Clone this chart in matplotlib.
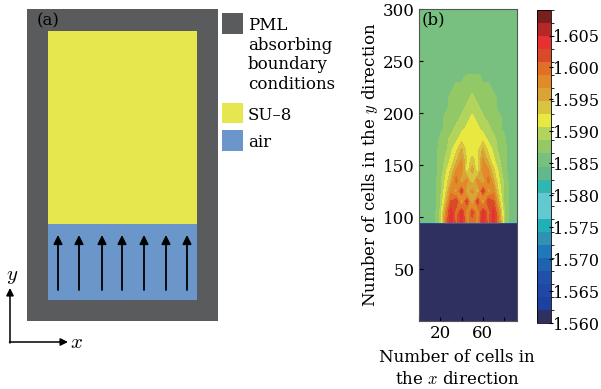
import numpy as np
import matplotlib
matplotlib.use("Agg")
import matplotlib.pyplot as plt
from matplotlib.colors import ListedColormap, BoundaryNorm
from matplotlib.patches import Rectangle

plt.rcParams['font.family'] = ['DejaVu Serif']
plt.rcParams['mathtext.fontset'] = 'cm'
plt.rcParams['font.size'] = 12

# ---- panel (b) data: refractive index map ----
# columns: x cells, rows: y cells; values are (n - 1.5) * 1000
x_cells = [0, 5, 10, 15, 20, 25, 30, 35, 40, 45, 50, 55, 60, 65, 70, 75, 80, 85, 90, 95]
y_cells = [0, 94, 95, 105, 115, 125, 135, 145, 155, 165, 175, 185, 195,
           205, 215, 225, 235, 245, 300]
n_milli = [
    [60, 60, 60, 60, 60, 60, 60, 60, 60, 60, 60, 60, 60, 60, 60, 60, 60, 60, 60, 60],
    [60, 60, 60, 60, 60, 60, 60, 60, 60, 60, 60, 60, 60, 60, 60, 60, 60, 60, 60, 60],
    [85, 85, 85, 86, 89, 99, 104, 100, 104, 98, 100, 98, 104, 100, 104, 99, 89, 86, 85, 85],
    [85, 85, 85, 86, 89, 97, 104, 99, 104, 96, 102, 96, 104, 99, 104, 97, 89, 86, 85, 85],
    [85, 85, 85, 86, 88, 94, 101, 103, 94, 103, 93, 103, 94, 103, 101, 94, 88, 86, 85, 85],
    [85, 85, 85, 86, 88, 92, 98, 95, 103, 93, 98, 93, 103, 95, 98, 92, 88, 86, 85, 85],
    [85, 85, 85, 86, 88, 91, 95, 100, 94, 98, 92, 98, 94, 100, 95, 91, 88, 86, 85, 85],
    [85, 85, 85, 86, 87, 90, 93, 97, 98, 91, 96, 91, 98, 97, 93, 90, 87, 86, 85, 85],
    [85, 85, 85, 86, 87, 89, 91, 94, 97, 92, 93, 92, 97, 94, 91, 89, 87, 86, 85, 85],
    [85, 85, 85, 86, 87, 88, 90, 92, 95, 92, 92, 92, 95, 92, 90, 88, 87, 86, 85, 85],
    [85, 85, 85, 85, 87, 88, 89, 90, 92, 91, 92, 91, 92, 90, 89, 88, 87, 85, 85, 85],
    [85, 85, 85, 85, 86, 87, 88, 89, 90, 91, 92, 91, 90, 89, 88, 87, 86, 85, 85, 85],
    [85, 85, 85, 85, 86, 87, 88, 88, 89, 90, 91, 90, 89, 88, 88, 87, 86, 85, 85, 85],
    [85, 85, 85, 85, 86, 86, 87, 88, 88, 89, 90, 89, 88, 88, 87, 86, 86, 85, 85, 85],
    [85, 85, 85, 85, 85, 86, 87, 87, 88, 88, 89, 88, 88, 87, 87, 86, 85, 85, 85, 85],
    [85, 85, 85, 85, 85, 86, 86, 87, 87, 88, 88, 88, 87, 87, 86, 86, 85, 85, 85, 85],
    [85, 85, 85, 85, 85, 85, 86, 86, 86, 87, 87, 87, 86, 86, 86, 85, 85, 85, 85, 85],
    [85, 85, 85, 85, 85, 85, 85, 85, 85, 85, 85, 85, 85, 85, 85, 85, 85, 85, 85, 85],
    [85, 85, 85, 85, 85, 85, 85, 85, 85, 85, 85, 85, 85, 85, 85, 85, 85, 85, 85, 85],
]
n_index = 1.5 + np.array(n_milli) / 1000.0

cbar_ticks = [1.560, 1.565, 1.570, 1.575, 1.580, 1.585, 1.590, 1.595, 1.600, 1.605]
cmap_colors = ['#2e3060', '#2040a0', '#2046a8', '#2050a8', '#2062b2', '#2078b8',
               '#3092b2', '#22b0b6', '#62c8d2', '#62c8d2', '#30b8b0', '#62b88a',
               '#78c080', '#92c866', '#b2d45c', '#e8e840', '#d8c440', '#d8a436',
               '#e08a2a', '#e07028', '#d84a28', '#e83030', '#b62828', '#7a1f1f']
levels = np.linspace(1.560, 1.609, len(cmap_colors) + 1)

# ---- panel (a) schematic geometry (figure pixels) ----
domain_box = [27, 9, 218, 321]      # PML outer box
su8_box = [48, 31, 197, 224]
air_box = [48, 224, 197, 300]
arrow_x = [58, 79, 102, 122, 144, 166, 187]
arrow_y = [290, 235]
legend_items = [('#5a5b5d', [13, 34], ['PML', 'absorbing', 'boundary', 'conditions']),
                ('#e6e64e', [103, 123], ['SU\u20138']),
                ('#6a96ca', [130, 151], ['air'])]

W, H = 601, 389
fig = plt.figure(figsize=(W / 100, H / 100), dpi=100)

ov = fig.add_axes([0, 0, 1, 1])
ov.set_xlim(0, W)
ov.set_ylim(H, 0)
ov.axis('off')

def box(b, c):
    ov.add_patch(Rectangle((b[0], b[1]), b[2] - b[0], b[3] - b[1], fc=c, ec='none'))

box(domain_box, '#5a5b5d')
box(su8_box, '#e6e64e')
box(air_box, '#6a96ca')
for xa in arrow_x:
    ov.annotate('', xy=(xa, arrow_y[1]), xytext=(xa, arrow_y[0]),
                arrowprops=dict(arrowstyle='-|>', color='k', lw=1.3,
                                mutation_scale=13, shrinkA=0, shrinkB=0))
ov.text(37, 21, '(a)', ha='left', va='center', fontsize=12)

for c, (y0, y1), lines in legend_items:
    ov.add_patch(Rectangle((222, y0), 21, y1 - y0, fc=c, ec='none'))
    for i, t in enumerate(lines):
        ov.text(248, (y0 + y1) / 2 + i * 19.7, t, ha='left', va='center_baseline', fontsize=12)

# coordinate arrows
ov.annotate('', xy=(10, 288), xytext=(10, 343),
            arrowprops=dict(arrowstyle='-|>', color='k', lw=1.1, mutation_scale=11,
                            shrinkA=0, shrinkB=0))
ov.annotate('', xy=(68, 342), xytext=(9.5, 342),
            arrowprops=dict(arrowstyle='-|>', color='k', lw=1.1, mutation_scale=11,
                            shrinkA=0, shrinkB=0))
ov.text(12, 276, '$y$', ha='center', va='center', fontsize=15)
ov.text(77, 343, '$x$', ha='center', va='center', fontsize=15)

# ---- panel (b) ----
ax = fig.add_axes([419 / W, 1 - 321 / H, 98 / W, 312 / H])
cmap = ListedColormap(cmap_colors)
norm = BoundaryNorm(levels, cmap.N)
cf = ax.contourf(x_cells, y_cells, n_index, levels=levels, cmap=cmap, norm=norm)
ax.set_xlim(1, 92)
ax.set_ylim(0, 300)
ax.set_yticks([50, 100, 150, 200, 250, 300])
ax.set_xticks([0, 20, 40, 60, 80])
ax.set_xticklabels(['', '20', '', '60', ''])
ax.tick_params(direction='in', length=3, labelsize=12, pad=3)
for s in ax.spines.values():
    s.set_color('#555555')
    s.set_linewidth(0.8)
ax.set_ylabel('Number of cells in the $y$ direction', fontsize=12, labelpad=2)
ax.text(2, 290, '(b)', ha='left', va='center', fontsize=12)
fig.text(457 / W, 1 - 358 / H, 'Number of cells in', ha='center', va='center', fontsize=12)
fig.text(457 / W, 1 - 380 / H, 'the $x$ direction', ha='center', va='center', fontsize=12)

cax = fig.add_axes([537 / W, 1 - 323 / H, 14 / W, 313 / H])
cb = fig.colorbar(cf, cax=cax, ticks=cbar_ticks)
cb.ax.set_yticklabels([f'{t:.3f}' for t in cbar_ticks])
cb.ax.tick_params(direction='inout', length=3, labelsize=11.5, pad=0)
cb.outline.set_linewidth(0.6)

fig.savefig('out.png', dpi=100)
